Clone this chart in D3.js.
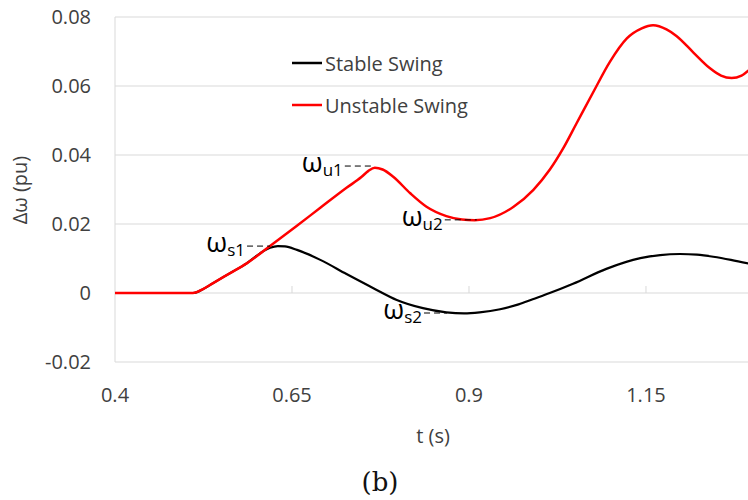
<!DOCTYPE html>
<html>
<head>
<meta charset="utf-8">
<script src="https://cdn.jsdelivr.net/npm/d3@7"></script>
<style>
  body { margin: 0; background: #fff; }
  svg { display: block; font-family: "Open Sans", sans-serif; }
</style>
</head>
<body>
<div id="app"></div>
<script>
// Data
const stableT = [0.40, 0.51, 0.525, 0.538, 0.562, 0.586, 0.605, 0.619, 0.630, 0.640, 0.657, 0.690, 0.727, 0.765, 0.798, 0.835, 0.868, 0.893, 0.915, 0.944, 0.970, 0.990, 1.014, 1.047, 1.094, 1.142, 1.170, 1.198, 1.222, 1.245, 1.270, 1.30];
const stableW = [0, 0, 0.0012, 0.0028, 0.0057, 0.0086, 0.0115, 0.0131, 0.0136, 0.0135, 0.0125, 0.0096, 0.0055, 0.0014, -0.0020, -0.0044, -0.0056, -0.0059, -0.0056, -0.0047, -0.0033, -0.0018, 0.0000, 0.0027, 0.0070, 0.0101, 0.0110, 0.0113, 0.0111, 0.0105, 0.0096, 0.0083];

const unstableT = [0.40, 0.51, 0.525, 0.538, 0.562, 0.586, 0.619, 0.657, 0.690, 0.727, 0.748, 0.758, 0.767, 0.778, 0.793, 0.817, 0.840, 0.868, 0.890, 0.908, 0.930, 0.963, 0.991, 1.014, 1.033, 1.052, 1.076, 1.099, 1.123, 1.144, 1.160, 1.179, 1.193, 1.217, 1.240, 1.256, 1.271, 1.285, 1.30];
const unstableW = [0, 0, 0.0012, 0.0028, 0.0057, 0.0086, 0.0136, 0.0195, 0.0247, 0.0305, 0.0336, 0.0354, 0.0363, 0.0358, 0.0337, 0.0289, 0.0250, 0.0223, 0.0213, 0.0211, 0.0217, 0.0250, 0.0299, 0.0357, 0.0419, 0.0492, 0.0584, 0.0670, 0.0738, 0.0767, 0.0776, 0.0764, 0.0745, 0.0697, 0.0652, 0.0630, 0.0623, 0.0630, 0.0655];

const xTicks = [0.4, 0.65, 0.9, 1.15];
const yTicks = [-0.02, 0, 0.02, 0.04, 0.06, 0.08];

const seriesNames = ['Stable Swing', 'Unstable Swing'];
const seriesColors = ['#000000', '#ff0000'];

// annotation markers (subscript, t, value, dash length)
const annoSub = ['u1', 's1', 'u2', 's2'];
const annoT = [0.767, 0.619, 0.911, 0.869];
const annoW = [0.0368, 0.0136, 0.0212, -0.0058];
const annoDash = [30, 23, 32, 23];

const width = 748;
const height = 500;
const margin = { top: 17, right: 0, bottom: 138, left: 115 };

const svg = d3.select('#app')
  .append('svg')
  .attr('width', width)
  .attr('height', height);

const x = d3.scaleLinear()
  .domain([0.4, 1.2941])
  .range([margin.left, width - margin.right]);

const y = d3.scaleLinear()
  .domain([-0.02, 0.08])
  .range([height - margin.bottom, margin.top]);

// gridlines
svg.append('g')
  .selectAll('line')
  .data(yTicks)
  .join('line')
  .attr('x1', margin.left)
  .attr('x2', width)
  .attr('y1', d => y(d))
  .attr('y2', d => y(d))
  .attr('stroke', '#d9d9d9')
  .attr('stroke-width', 1);

// left axis line
svg.append('line')
  .attr('x1', margin.left).attr('x2', margin.left)
  .attr('y1', y(0.08)).attr('y2', y(-0.02))
  .attr('stroke', '#d9d9d9');

// x ticks sit on the zero line
svg.append('g')
  .selectAll('line')
  .data(xTicks.slice(1))
  .join('line')
  .attr('x1', d => x(d)).attr('x2', d => x(d))
  .attr('y1', y(0)).attr('y2', y(0) - 7)
  .attr('stroke', '#d9d9d9');

// tick labels
svg.append('g')
  .selectAll('text')
  .data(yTicks)
  .join('text')
  .attr('x', 91)
  .attr('y', d => y(d))
  .attr('dy', '0.35em')
  .attr('text-anchor', 'end')
  .attr('font-size', 20)
  .attr('fill', '#404040')
  .text(d => d === 0 ? '0' : d.toFixed(2));

svg.append('g')
  .selectAll('text')
  .data(xTicks)
  .join('text')
  .attr('x', d => x(d))
  .attr('y', 402)
  .attr('text-anchor', 'middle')
  .attr('font-size', 20)
  .attr('fill', '#404040')
  .text(d => String(d));

// axis titles
svg.append('text')
  .attr('transform', 'translate(27,190) rotate(-90)')
  .attr('text-anchor', 'middle')
  .attr('font-size', 20)
  .attr('fill', '#404040')
  .text('Δω (pu)');

svg.append('text')
  .attr('x', 433)
  .attr('y', 443)
  .attr('text-anchor', 'middle')
  .attr('font-size', 20)
  .attr('fill', '#404040')
  .text('t (s)');

svg.append('text')
  .attr('x', 380)
  .attr('y', 491)
  .attr('text-anchor', 'middle')
  .attr('font-family', '"DejaVu Serif", serif')
  .attr('font-size', 26)
  .attr('fill', '#111')
  .text('(b)');

// lines
svg.append('clipPath').attr('id', 'clip')
  .append('rect')
  .attr('x', margin.left).attr('y', 0)
  .attr('width', width - margin.left).attr('height', height);

const line = d3.line()
  .x(d => x(d[0]))
  .y(d => y(d[1]))
  .curve(d3.curveMonotoneX);

const series = [
  d3.zip(stableT, stableW),
  d3.zip(unstableT, unstableW)
];

svg.append('g')
  .attr('clip-path', 'url(#clip)')
  .selectAll('path')
  .data(series)
  .join('path')
  .attr('d', line)
  .attr('fill', 'none')
  .attr('stroke', (d, i) => seriesColors[i])
  .attr('stroke-width', (d, i) => i === 0 ? 2.2 : 2.5);

// legend
const legend = svg.append('g')
  .selectAll('g')
  .data(seriesNames)
  .join('g')
  .attr('transform', (d, i) => `translate(292,${63 + i * 42})`);

legend.append('line')
  .attr('x1', 0).attr('x2', 30)
  .attr('stroke', (d, i) => seriesColors[i])
  .attr('stroke-width', 2.5);

legend.append('text')
  .attr('x', 33)
  .attr('y', 8)
  .attr('font-size', 20)
  .attr('fill', '#404040')
  .text(d => d);

// omega annotations
const anno = svg.append('g')
  .selectAll('g')
  .data(annoSub)
  .join('g')
  .attr('transform', (d, i) => `translate(${x(annoT[i])},${y(annoW[i])})`);

anno.append('line')
  .attr('x1', (d, i) => -annoDash[i])
  .attr('x2', 0)
  .attr('stroke', '#000')
  .attr('stroke-width', 1)
  .attr('stroke-dasharray', '6,4');

const at = anno.append('text')
  .attr('x', (d, i) => -annoDash[i] - 2)
  .attr('y', 6)
  .attr('text-anchor', 'end')
  .attr('fill', '#000');

at.append('tspan')
  .attr('font-size', 27)
  .text('ω');

at.append('tspan')
  .attr('font-size', 17)
  .attr('dy', 4)
  .text(d => d);
</script>
</body>
</html>
